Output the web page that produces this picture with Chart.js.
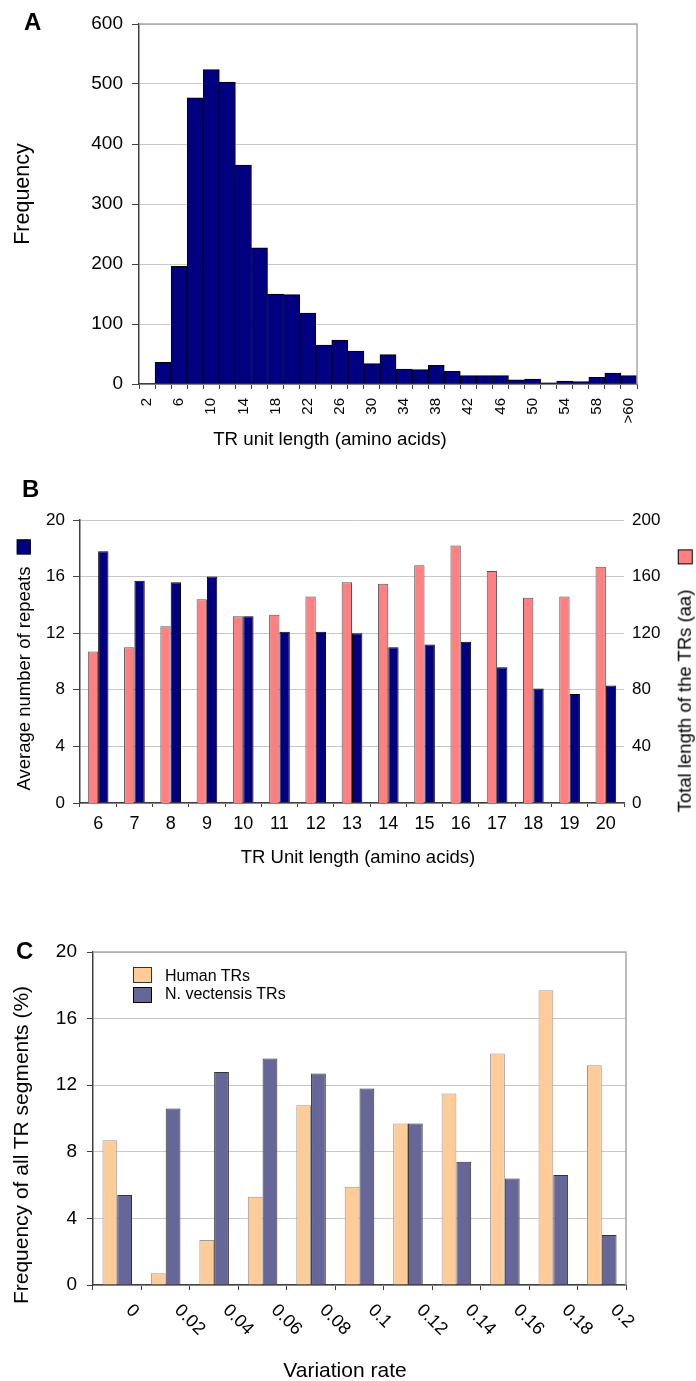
<!DOCTYPE html>
<html>
<head>
<meta charset="utf-8">
<script src="https://cdn.jsdelivr.net/npm/chart.js@4"></script>
<style>
  body { margin: 0; background: #fff; }
  #page { position: relative; width: 696px; height: 1381px; font-family: 'Liberation Sans', Arial, sans-serif; color: #000; overflow: hidden; }
  canvas { position: absolute; left: 0; }
  .lbl { position: absolute; white-space: nowrap; line-height: 1; }
  .panel { font-weight: bold; font-size: 24px; }
  .hz { transform: translateX(-50%); }
  .rot { transform: translate(-50%, -50%) rotate(-90deg); display: flex; align-items: center; }
  .sq { display: inline-block; box-sizing: border-box; border: 1px solid #000; }
  .leg { position: absolute; left: 133px; font-size: 16px; line-height: 1; }
  .leg span.sq { position: absolute; left: 0; width: 19px; height: 16px; }
  .leg span.t { position: absolute; left: 32px; white-space: nowrap; }
</style>
</head>
<body>
<div id="page">
  <canvas id="chartA" width="696" height="460" style="top:0px"></canvas>
  <canvas id="chartB" width="696" height="400" style="top:470px"></canvas>
  <canvas id="chartC" width="696" height="501" style="top:880px"></canvas>

  <div class="lbl panel" style="left:24px; top:10px">A</div>
  <div class="lbl panel" style="left:22px; top:477px">B</div>
  <div class="lbl panel" style="left:16px; top:939px">C</div>

  <div class="lbl rot" style="left:23px; top:194px; font-size:21.5px">Frequency</div>
  <div class="lbl hz" style="left:330px; top:430px; font-size:18.7px">TR unit length (amino acids)</div>

  <div class="lbl rot" style="left:24px; top:665px; font-size:18.5px">
    <span>Average number of repeats</span>
    <span class="sq" style="width:15px; height:14px; margin-left:12px; background:#000080"></span>
  </div>
  <div class="lbl rot" style="left:685px; top:681px; font-size:18.5px">
    <span>Total length of the TRs (aa)</span>
    <span class="sq" style="width:15px; height:15px; margin-left:25px; background:#FF8080"></span>
  </div>
  <div class="lbl hz" style="left:358px; top:848px; font-size:18.5px">TR Unit length (amino acids)</div>

  <div class="lbl rot" style="left:19.5px; top:1145px; font-size:21px">Frequency of all TR segments (%)</div>
  <div class="lbl hz" style="left:345px; top:1359px; font-size:21px">Variation rate</div>

  <div class="leg" style="top:967px">
    <span class="sq" style="background:#FFCC99; border-color:#333"></span>
    <span class="t" style="top:1px">Human TRs</span>
  </div>
  <div class="leg" style="top:987px">
    <span class="sq" style="background:#666699; border-color:#000"></span>
    <span class="t" style="top:-1px">N. vectensis TRs</span>
  </div>
</div>

<script>
// Panel A: histogram of TR unit lengths
const unitBins = ['2','4','6','8','10','12','14','16','18','20','22','24','26','28','30',
                  '32','34','36','38','40','42','44','46','48','50','52','54','56','58','60','>60'];
const unitFreq = [0, 36, 196, 477, 524, 503, 365, 227, 150, 149, 118, 65, 73, 55, 34,
                  49, 25, 24, 31, 21, 14, 14, 14, 7, 8, 2, 5, 4, 11, 18, 14];
const freqTicks = [0, 100, 200, 300, 400, 500, 600];

// Panel B: repeats and total length per unit length
const unitLengths = ['6','7','8','9','10','11','12','13','14','15','16','17','18','19','20'];
const totalLength = [107, 110, 125, 144, 132, 133, 146, 156, 155, 168, 182, 164, 145, 146, 167];
const avgRepeats = [17.8, 15.7, 15.6, 16.0, 13.2, 12.1, 12.1, 12.0, 11.0, 11.2, 11.4, 9.6, 8.1, 7.7, 8.3];

// Panel C: variation rate distribution
const rates = ['0','0.02','0.04','0.06','0.08','0.1','0.12','0.14','0.16','0.18','0.2'];
const humanPct = [8.7, 0.7, 2.7, 5.3, 10.8, 5.9, 9.7, 11.5, 13.9, 17.7, 13.2];
const nvecPct = [5.4, 10.6, 12.8, 13.6, 12.7, 11.8, 9.7, 7.4, 6.4, 6.6, 3.0];

const FONT = "'Liberation Sans', Arial, sans-serif";
Chart.defaults.font.family = FONT;
Chart.defaults.color = '#000';
Chart.defaults.animation = false;
Chart.defaults.responsive = false;
Chart.defaults.plugins.legend.display = false;
Chart.defaults.plugins.tooltip.enabled = false;

const GRID = '#c8c8c8';
const AXIS = '#404040';

// top + right border of the plot area
const frame = {
  id: 'frame',
  afterDatasetsDraw(chart) {
    const a = chart.chartArea;
    const ctx = chart.ctx;
    ctx.save();
    ctx.strokeStyle = '#a8a8a8';
    ctx.lineWidth = 1.5;
    ctx.beginPath();
    ctx.moveTo(a.left, a.top);
    ctx.lineTo(a.right, a.top);
    ctx.lineTo(a.right, a.bottom);
    ctx.stroke();
    ctx.restore();
  }
};

// slanted category labels for panel C
const slantLabels = {
  id: 'slantLabels',
  afterDraw(chart) {
    const x = chart.scales.x;
    const ctx = chart.ctx;
    ctx.save();
    ctx.font = '18px ' + FONT;
    ctx.fillStyle = '#000';
    ctx.textAlign = 'left';
    ctx.textBaseline = 'alphabetic';
    rates.forEach((r, i) => {
      ctx.save();
      ctx.translate(x.getPixelForTick(i) + 8, x.top + 26);
      ctx.rotate(Math.PI / 4);
      ctx.fillText(r, 0, 0);
      ctx.restore();
    });
    ctx.restore();
  }
};

new Chart(document.getElementById('chartA'), {
  type: 'bar',
  data: {
    labels: unitBins,
    datasets: [{
      data: unitFreq,
      backgroundColor: '#000080',
      borderColor: '#000',
      borderWidth: 1,
      barPercentage: 1,
      categoryPercentage: 1
    }]
  },
  options: {
    layout: { padding: { top: 24, right: 59, left: 0, bottom: 0 } },
    scales: {
      x: {
        afterFit: s => { s.height = 76; },
        grid: { drawOnChartArea: false, tickLength: 5, tickColor: AXIS, offset: true },
        border: { color: AXIS, width: 1.5 },
        ticks: {
          autoSkip: false, minRotation: 90, maxRotation: 90, padding: 9,
          font: { size: 15 },
          callback: (v, i) => (i % 2 === 0 ? unitBins[i] : '')
        }
      },
      y: {
        min: 0, max: 600,
        afterFit: s => { s.width = 139; },
        afterBuildTicks: s => { s.ticks = freqTicks.map(v => ({ value: v })); },
        grid: { color: GRID, tickLength: 7, tickColor: AXIS },
        border: { color: AXIS, width: 1.5 },
        ticks: { padding: 9, font: { size: 19 } }
      }
    }
  },
  plugins: [frame]
});

new Chart(document.getElementById('chartB'), {
  type: 'bar',
  data: {
    labels: unitLengths,
    datasets: [{
      data: totalLength,
      yAxisID: 'yR',
      backgroundColor: '#FF8080',
      borderColor: '#555',
      borderWidth: 1,
      barPercentage: 1,
      categoryPercentage: 0.57
    }, {
      data: avgRepeats,
      yAxisID: 'y',
      backgroundColor: '#000080',
      borderColor: '#000',
      borderWidth: 1,
      barPercentage: 1,
      categoryPercentage: 0.57
    }]
  },
  options: {
    layout: { padding: { top: 50, right: 0, left: 0, bottom: 0 } },
    scales: {
      x: {
        afterFit: s => { s.height = 67; },
        grid: { drawOnChartArea: false, tickLength: 4, tickColor: AXIS, offset: true },
        border: { color: AXIS, width: 1.5 },
        ticks: { autoSkip: false, maxRotation: 0, padding: 6, font: { size: 18 } }
      },
      y: {
        position: 'left',
        min: 0, max: 20,
        afterFit: s => { s.width = 80; },
        grid: { color: GRID, tickLength: 7, tickColor: AXIS },
        border: { color: AXIS, width: 1.5 },
        ticks: { stepSize: 4, padding: 8, font: { size: 17 } }
      },
      yR: {
        position: 'right',
        min: 0, max: 200,
        afterFit: s => { s.width = 72; },
        grid: { display: false, drawTicks: false },
        border: { display: false },
        ticks: { stepSize: 40, padding: 8, font: { size: 17 } }
      }
    }
  }
});

new Chart(document.getElementById('chartC'), {
  type: 'bar',
  data: {
    labels: rates,
    datasets: [{
      data: humanPct,
      backgroundColor: '#FFCC99',
      borderColor: '#999',
      borderWidth: 1,
      barPercentage: 1,
      categoryPercentage: 0.61
    }, {
      data: nvecPct,
      backgroundColor: '#666699',
      borderColor: '#333',
      borderWidth: 1,
      barPercentage: 1,
      categoryPercentage: 0.61
    }]
  },
  options: {
    layout: { padding: { top: 72, right: 70, left: 0, bottom: 0 } },
    scales: {
      x: {
        afterFit: s => { s.height = 96; },
        grid: { drawOnChartArea: false, tickLength: 5, tickColor: AXIS, offset: true },
        border: { color: AXIS, width: 1.5 },
        ticks: { display: false }
      },
      y: {
        min: 0, max: 20,
        afterFit: s => { s.width = 93; },
        grid: { color: GRID, tickLength: 6, tickColor: AXIS },
        border: { color: AXIS, width: 1.5 },
        ticks: { stepSize: 4, padding: 10, font: { size: 19 } }
      }
    }
  },
  plugins: [frame, slantLabels]
});
</script>
</body>
</html>
